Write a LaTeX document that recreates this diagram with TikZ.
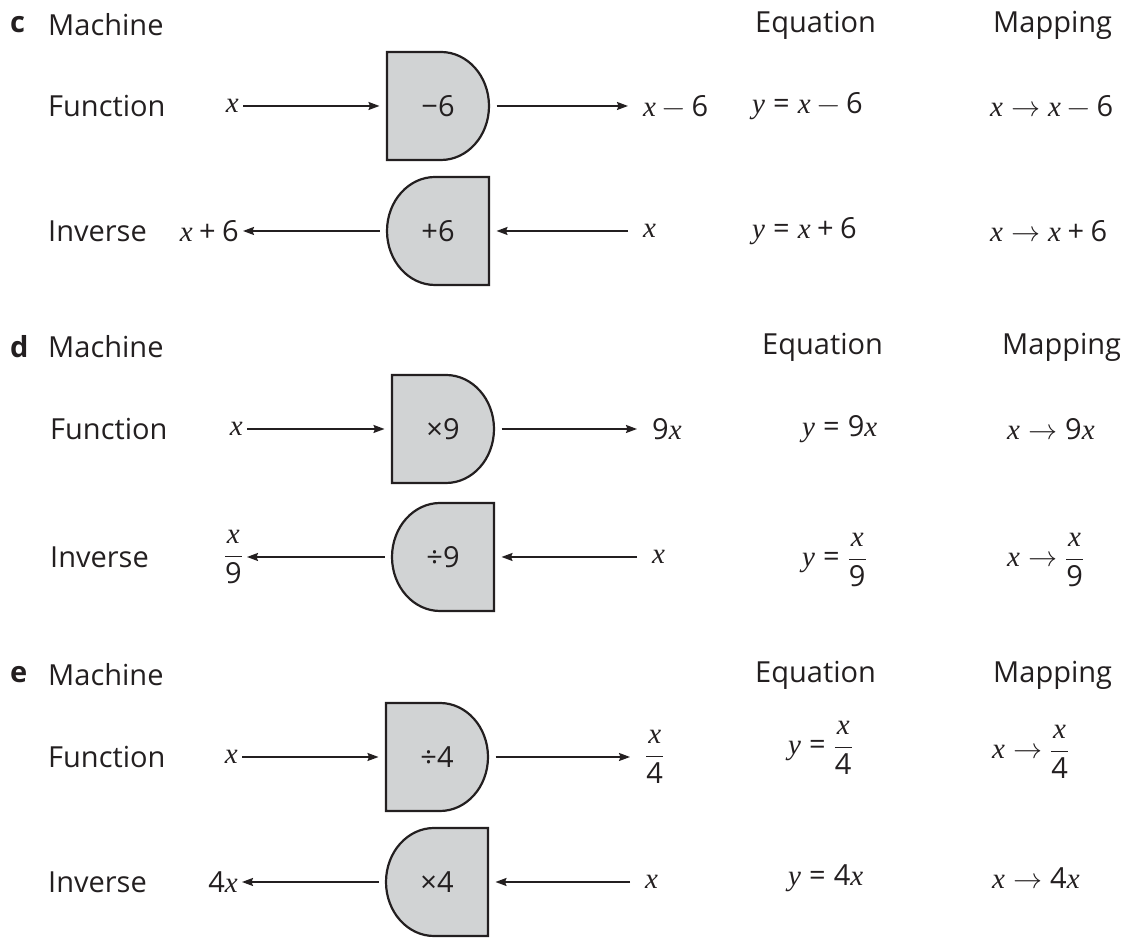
\documentclass[tikz,border=0pt]{standalone}
\usepackage{amsmath}
\usepackage{fontspec}
\usepackage{unicode-math}
\setmainfont{Open Sans}
\newfontfamily\varfont{Liberation Serif}
\setmathfont{Latin Modern Math}
\setmathfont[range={up/num,"002B,"003D,"2212}]{Open Sans}
\newcommand{\vx}{\text{\varfont\itshape x}}
\newcommand{\vy}{\text{\varfont\itshape y}}
\usetikzlibrary{arrows.meta,backgrounds}
\definecolor{machinefill}{RGB}{209,211,212}
\definecolor{inkgray}{RGB}{35,31,32}

\begin{document}
\begin{tikzpicture}[
  x=1pt,y=1pt,
  font=\fontsize{29}{35}\selectfont,
  text=inkgray,
  arrow/.style={-{Stealth[length=11pt,width=8pt,inset=1.5pt]},line width=1.6pt,draw=inkgray},
  machine/.style={draw=inkgray,fill=machinefill,line width=2.2pt},
  opnode/.style={minimum width=102pt,minimum height=108pt,inner sep=0pt,
    outer xsep=7.5pt,outer ysep=0pt},
  part/.style={anchor=west,inner sep=0pt,font=\fontsize{29}{35}\selectfont\bfseries},
  head/.style={anchor=west,inner sep=0pt},
  leftlbl/.style={anchor=east,inner xsep=4pt,inner ysep=0pt},
  rightlbl/.style={anchor=west,inner xsep=15pt,inner ysep=0pt},
  eqn/.style={anchor=west,inner sep=0pt}
]
\useasboundingbox (0,0) rectangle (1125,942);

% -------------------------------------------------------------------------
% Machines. Function machines are rounded on the right, inverses on the left.
% -------------------------------------------------------------------------
\foreach \m/\cx/\cy/\op in {cF/438/836/{−6},dF/443/513/{×9},eF/437/185/{÷4}} {
  \node[opnode] (\m) at (\cx,\cy) {\op};
  \begin{scope}[on background layer]
    \draw[machine] ([xshift=7.5pt]\m.north west) -- ++(54,0)
      arc[start angle=90,end angle=-90,x radius=48,y radius=54]
      -- ([xshift=7.5pt]\m.south west) -- cycle;
  \end{scope}
}
\foreach \m/\cx/\cy/\op in {cI/438/711/{+6},dI/443/385/{÷9},eI/437/60/{×4}} {
  \node[opnode] (\m) at (\cx,\cy) {\op};
  \begin{scope}[on background layer]
    \draw[machine] ([xshift=-7.5pt]\m.north east) -- ++(-54,0)
      arc[start angle=90,end angle=270,x radius=48,y radius=54]
      -- ([xshift=-7.5pt]\m.south east) -- cycle;
  \end{scope}
}

% -------------------------------------------------------------------------
% c. Subtract 6.
% -------------------------------------------------------------------------
\node[part] (cpart) at (10,917) {c};
\node[head] (cmach) at (48,917) {Machine};
\node[head] (ceqh) at (755,917) {Equation};
\node[head] (cmaph) at (993,917) {Mapping};
\node[head] (cfun) at (48,836) {Function};
\node[head] (cinv) at (48,711) {Inverse};
\node[leftlbl] (cFin) at (243,836) {$\vx$};
\node[rightlbl] (cFout) at (628,836) {$\vx - 6$};
\node[leftlbl] (cIout) at (243,711) {$\vx + 6$};
\node[rightlbl] (cIin) at (628,711) {$\vx$};
\node[eqn] (cFeq) at (752,836) {$\vy = \vx - 6$};
\node[eqn] (cIeq) at (752,711) {$\vy = \vx + 6$};
\node[eqn] (cFmap) at (990,836) {$\vx \rightarrow \vx - 6$};
\node[eqn] (cImap) at (990,711) {$\vx \rightarrow \vx + 6$};

% -------------------------------------------------------------------------
% d. Multiply by 9.
% -------------------------------------------------------------------------
\node[part] (dpart) at (10,595) {d};
\node[head] (dmach) at (48,595) {Machine};
\node[head] (deqh) at (762,595) {Equation};
\node[head] (dmaph) at (1002,595) {Mapping};
\node[head] (dfun) at (50,513) {Function};
\node[head] (dinv) at (50,385) {Inverse};
\node[leftlbl] (dFin) at (247,513) {$\vx$};
\node[rightlbl] (dFout) at (637,513) {$9\vx$};
\node[leftlbl] (dIout) at (247,385) {$\dfrac{\vx}{9}$};
\node[rightlbl] (dIin) at (637,385) {$\vx$};
\node[eqn] (dFeq) at (802,513) {$\vy = 9\vx$};
\node[eqn] (dIeq) at (802,382) {$\vy = \dfrac{\vx}{9}$};
\node[eqn] (dFmap) at (1007,513) {$\vx \rightarrow 9\vx$};
\node[eqn] (dImap) at (1007,382) {$\vx \rightarrow \dfrac{\vx}{9}$};

% -------------------------------------------------------------------------
% e. Divide by 4.
% -------------------------------------------------------------------------
\node[part] (epart) at (10,267) {e};
\node[head] (emach) at (48,267) {Machine};
\node[head] (eeqh) at (755,267) {Equation};
\node[head] (emaph) at (993,267) {Mapping};
\node[head] (efun) at (48,185) {Function};
\node[head] (einv) at (48,60) {Inverse};
\node[leftlbl] (eFin) at (242,185) {$\vx$};
\node[rightlbl] (eFout) at (630,185) {$\dfrac{\vx}{4}$};
\node[leftlbl] (eIout) at (242,60) {$4\vx$};
\node[rightlbl] (eIin) at (630,60) {$\vx$};
\node[eqn] (eFeq) at (788,194) {$\vy = \dfrac{\vx}{4}$};
\node[eqn] (eIeq) at (788,64) {$\vy = 4\vx$};
\node[eqn] (eFmap) at (992,190) {$\vx \rightarrow \dfrac{\vx}{4}$};
\node[eqn] (eImap) at (992,64) {$\vx \rightarrow 4\vx$};

% Connectors: left to right on function rows, right to left on inverse rows.
\foreach \a/\b in {cFin/cF,cF/cFout,dFin/dF,dF/dFout,eFin/eF,eF/eFout}
  {\draw[arrow] (\a.east) -- (\b.west);}
\foreach \a/\b in {cIin/cI,cI/cIout,dIin/dI,dI/dIout,eIin/eI,eI/eIout}
  {\draw[arrow] (\a.west) -- (\b.east);}
\end{tikzpicture}
\end{document}
